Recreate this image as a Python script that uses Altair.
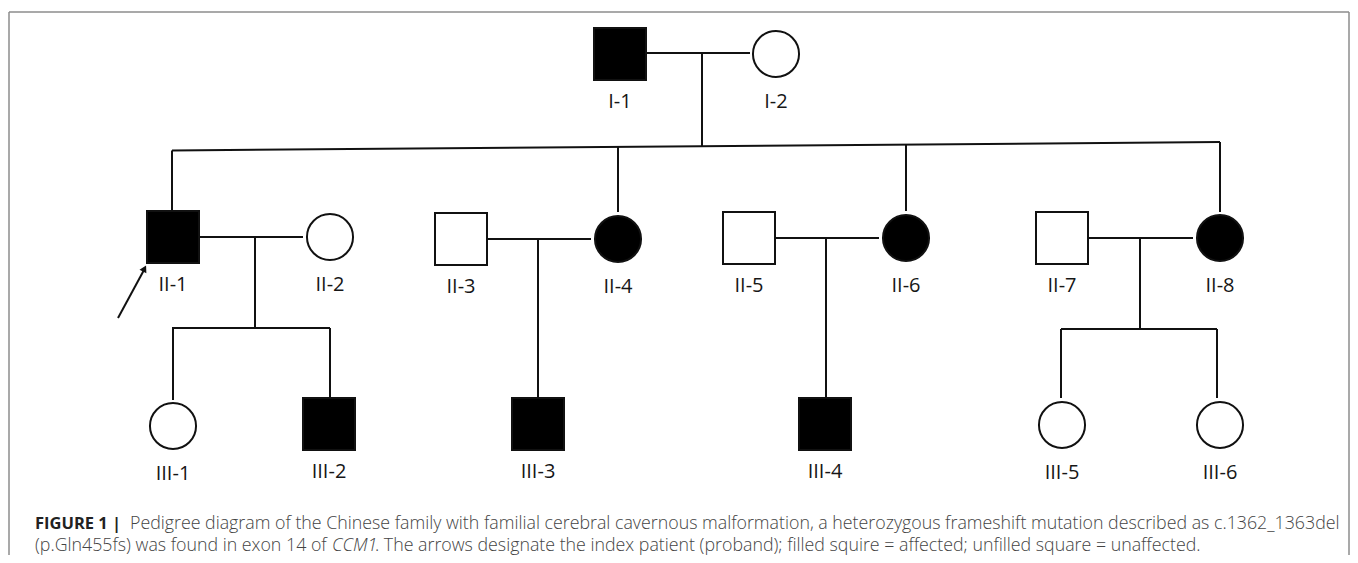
import altair as alt
import pandas as pd

# ---- individuals ----
ids = ["I-1", "I-2", "II-1", "II-2", "II-3", "II-4", "II-5", "II-6", "II-7", "II-8",
       "III-1", "III-2", "III-3", "III-4", "III-5", "III-6"]
px = [620, 776, 173, 330, 461, 618, 749, 906, 1062, 1220, 173, 329, 538, 825, 1062, 1220]
py = [54, 54, 237, 237, 239, 239, 238, 238, 238, 238, 426, 424, 424, 424, 425, 425]
sex = ["M", "F", "M", "F", "M", "F", "M", "F", "M", "F", "F", "M", "M", "M", "F", "F"]
affected = ["yes", "no", "yes", "no", "no", "yes", "no", "yes", "no", "yes",
            "no", "yes", "yes", "yes", "no", "no"]
label_offset = 48

# ---- pedigree connecting lines ----
lx1 = [647, 702, 172, 172, 618, 906, 1220, 200, 255, 172, 173, 330, 488, 538, 776, 826, 1089, 1140, 1061, 1061, 1217]
ly1 = [53, 53, 150.5, 150.5, 146.9, 144.5, 142, 237, 237, 328, 328, 328, 239, 239, 238, 238, 238, 238, 329, 329, 329]
lx2 = [750, 702, 1220, 172, 618, 906, 1220, 303, 255, 330, 173, 330, 591, 538, 879, 826, 1193, 1140, 1217, 1061, 1217]
ly2 = [53, 147, 142, 210, 212, 211, 212, 237, 328, 328, 400, 397, 239, 397, 238, 397, 238, 329, 329, 398, 398]

# ---- proband arrow ----
arrow_x1, arrow_y1, arrow_x2, arrow_y2 = [118], [318], [144], [270]
arrow_head_x, arrow_head_y = [144.5], [268.5]

# ---- frame ----
bx1 = [9, 9, 1349]
by1 = [12, 12, 12]
bx2 = [9, 1349, 1349]
by2 = [556, 12, 556]

# ---- caption ----
cap_text = ["FIGURE 1 |",
            "Pedigree diagram of the Chinese family with familial cerebral cavernous malformation, a heterozygous frameshift mutation described as c.1362_1363del",
            "(p.Gln455fs) was found in exon 14 of",
            "CCM1",
            ". The arrows designate the index patient (proband); filled squire = affected; unfilled square = unaffected."]
cap_x = [35, 130, 35, 332, 375]
cap_y = [529, 529, 551, 551, 551]
cap_size = [16.5, 17.8, 17.8, 17.8, 17.8]
cap_weight = ["bold", 300, 300, 300, 300]
cap_style = ["normal", "normal", "normal", "italic", "normal"]
cap_color = ["#222222", "#444444", "#444444", "#444444", "#444444"]

W, H = 1342, 547
xs = alt.Scale(domain=[8, 8 + W], nice=False, zero=False)
ys = alt.Scale(domain=[8, 8 + H], nice=False, zero=False, reverse=True)


def X(f):
    return alt.X(f, type="quantitative", scale=xs, axis=None)


def Y(f):
    return alt.Y(f, type="quantitative", scale=ys, axis=None)


people = pd.DataFrame({"id": ids, "x": px, "y": py, "sex": sex, "affected": affected})
lines = pd.DataFrame({"x": lx1, "y": ly1, "x2": lx2, "y2": ly2})
frame = pd.DataFrame({"x": bx1, "y": by1, "x2": bx2, "y2": by2})
arrow = pd.DataFrame({"x": arrow_x1, "y": arrow_y1, "x2": arrow_x2, "y2": arrow_y2})
head = pd.DataFrame({"x": arrow_head_x, "y": arrow_head_y})
caption = pd.DataFrame({"t": cap_text, "x": cap_x, "y": cap_y})

frame_layer = alt.Chart(frame).mark_rule(color="#8c8c8c", strokeWidth=1.5).encode(
    x=X("x"), y=Y("y"), x2="x2", y2="y2")

line_layer = alt.Chart(lines).mark_rule(color="#111111", strokeWidth=2).encode(
    x=X("x"), y=Y("y"), x2="x2", y2="y2")

arrow_layer = alt.Chart(arrow).mark_rule(color="#111111", strokeWidth=2).encode(
    x=X("x"), y=Y("y"), x2="x2", y2="y2")

head_layer = alt.Chart(head).mark_point(shape="triangle-up", angle=28, size=60, filled=True,
                                        color="#111111", opacity=1).encode(x=X("x"), y=Y("y"))

shape_layer = alt.Chart(people).mark_point(filled=True, opacity=1, stroke="#111111",
                                           strokeWidth=2, strokeOpacity=1).encode(
    x=X("x"), y=Y("y"),
    shape=alt.Shape("sex:N", scale=alt.Scale(domain=["M", "F"], range=["square", "circle"]), legend=None),
    size=alt.Size("sex:N", scale=alt.Scale(domain=["M", "F"], range=[2704, 2124]), legend=None),
    fill=alt.Fill("affected:N", scale=alt.Scale(domain=["yes", "no"], range=["#000000", "#ffffff"]), legend=None),
)

label_layer = alt.Chart(people).transform_calculate(ly=f"datum.y + {label_offset}").mark_text(
    font="Open Sans", fontSize=20, color="#161616", align="center", baseline="middle").encode(
    x=X("x"), y=Y("ly:Q"), text="id:N")

cap_layers = []
for i in range(len(cap_text)):
    cap_layers.append(
        alt.Chart(caption.iloc[[i]]).mark_text(
            font="Open Sans", fontSize=cap_size[i], fontWeight=cap_weight[i], fontStyle=cap_style[i],
            color=cap_color[i], align="left", baseline="alphabetic").encode(
            x=X("x"), y=Y("y"), text="t:N")
    )

chart = alt.layer(frame_layer, line_layer, arrow_layer, head_layer, shape_layer, label_layer,
                  *cap_layers).properties(
    width=W, height=H, padding=0, autosize=alt.AutoSizeParams(type="none")
).configure_view(stroke=None)

chart.save("out.html", embed_options={"renderer": "svg", "actions": False})
